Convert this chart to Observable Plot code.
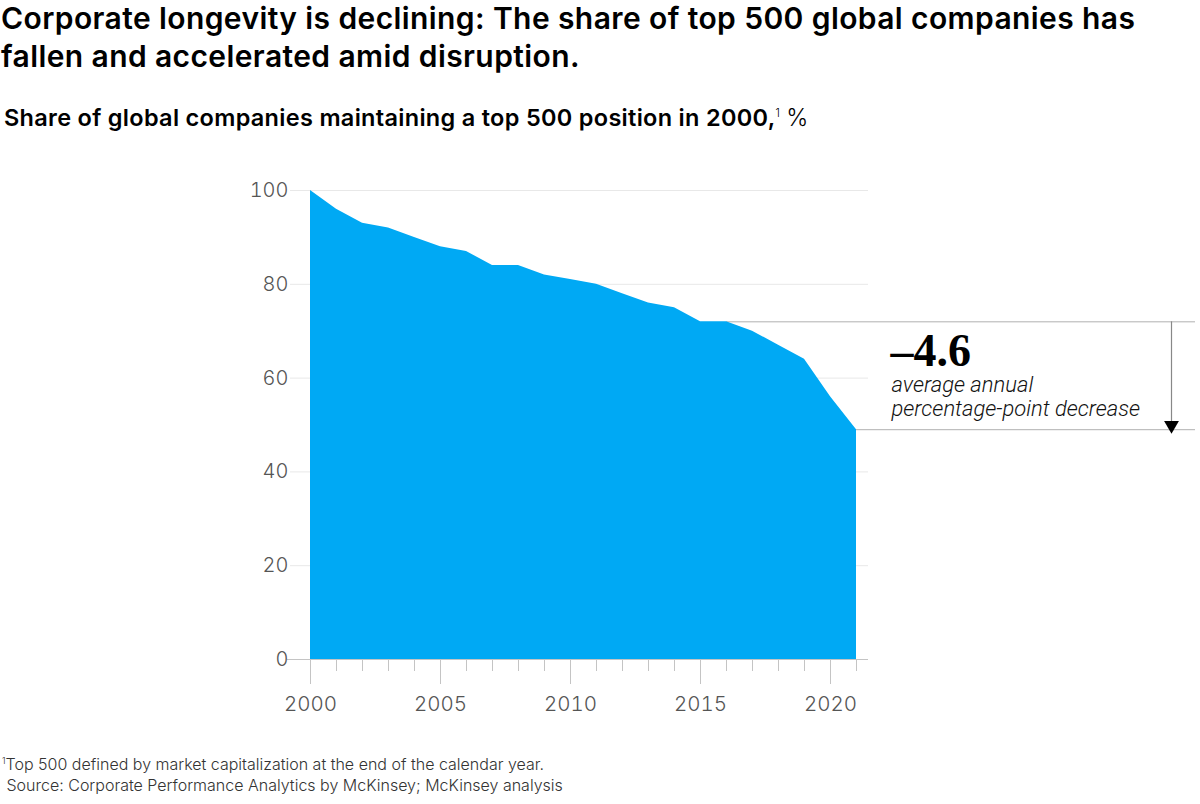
<!DOCTYPE html>
<html>
<head>
<meta charset="utf-8">
<script src="https://cdn.jsdelivr.net/npm/d3@7"></script>
<script src="https://cdn.jsdelivr.net/npm/@observablehq/plot@0.6"></script>
<style>
  html, body { margin: 0; padding: 0; background: #fff; }
  body { width: 1200px; height: 804px; position: relative; overflow: hidden; font-family: Inter, Roboto, "Noto Sans", sans-serif; }
  #title { position: absolute; left: 1px; top: -1px; width: 1199px; white-space: nowrap; font-size: 30px; font-weight: 600; line-height: 38px; color: #000; letter-spacing: 0.4px; }
  #subtitle { position: absolute; left: 4px; top: 103px; white-space: nowrap; font-size: 23.5px; font-weight: 600; color: #000; letter-spacing: 0.3px; }
  #subtitle sup { font-size: 11px; font-weight: 300; vertical-align: 9px; }
  #subtitle .unit { font-weight: 300; }
  #chart { position: absolute; left: 0; top: 150px; }
  #foot { position: absolute; left: 2px; top: 750px; font-size: 16px; font-weight: 300; color: #333; line-height: 21px; }
  #foot sup { font-size: 9px; vertical-align: 6px; }
</style>
</head>
<body>
<div id="title">Corporate longevity is declining: The share of top 500 global companies has<br>fallen and accelerated amid disruption.</div>
<div id="subtitle">Share of global companies maintaining a top 500 position in 2000,<sup>1</sup> <span class="unit">%</span></div>
<div id="chart"></div>
<div id="foot"><sup>1</sup>Top 500 defined by market capitalization at the end of the calendar year.<br>&nbsp;Source: Corporate Performance Analytics by McKinsey; McKinsey analysis</div>
<script>
const years  = [2000, 2001, 2002, 2003, 2004, 2005, 2006, 2007, 2008, 2009, 2010,
                2011, 2012, 2013, 2014, 2015, 2016, 2017, 2018, 2019, 2020, 2021];
const shares = [100, 96, 93, 92, 90, 88, 87, 84, 84, 82, 81,
                80, 78, 76, 75, 72, 72, 70, 67, 64, 56, 49];
const yTicks = [0, 20, 40, 60, 80, 100];
const xLabelTicks = [2000, 2005, 2010, 2015, 2020];
const annoYears = [2016, 2021];
const annoValues = [72, 49];
const annoValueLabel = ["–4.6"];
const annoText = ["average annual\npercentage-point decrease"];

const data = years.map((y, i) => ({year: y, share: shares[i]}));
const endYear = years[years.length - 1];
const annoLines = annoYears.map((y, i) => ({x1: y, x2: endYear, y: annoValues[i]}));

const font = "Inter, Roboto, 'Noto Sans', sans-serif";

const plot = Plot.plot({
  width: 1200,
  height: 590,
  marginLeft: 310,
  marginRight: 344,
  marginTop: 40,
  marginBottom: 81,
  style: { fontFamily: font, background: "transparent", overflow: "visible" },
  x: { domain: [years[0], endYear] },
  y: { domain: [0, 100] },
  marks: [
    Plot.ruleY(yTicks.filter(d => d > 0), { stroke: "#e8e8e8", strokeWidth: 1, insetLeft: -20, insetRight: -12 }),
    Plot.ruleY(annoLines, { x1: "x1", x2: "x2", y: "y", stroke: "#b0b0b0", strokeWidth: 1, insetRight: -339 }),
    Plot.areaY(data, { x: "year", y: "share", fill: "#00a9f4" }),
    Plot.ruleY([0], { stroke: "#c4c4c4", strokeWidth: 1, insetLeft: -23, insetRight: -12 }),
    Plot.axisY(yTicks, { tickSize: 0, tickPadding: 22, fontSize: 20, fontWeight: 300, fill: "#555", label: null }),
    Plot.axisX(years, { tickSize: 12, stroke: "#c4c4c4", text: null, label: null }),
    Plot.axisX(xLabelTicks, { tickSize: 25, stroke: "#c4c4c4", tickPadding: 12, fontSize: 20.5, fontWeight: 300, fill: "#555", tickFormat: d => String(d), label: null }),
    Plot.ruleX([0], { x: () => endYear, y1: annoValues[0], y2: annoValues[1], dx: 315, stroke: "#888", strokeWidth: 1.2, insetBottom: 8 }),
    Plot.dot([0], { x: () => endYear, y: annoValues[1], dx: 315, dy: -4.5, symbol: "triangle", rotate: 180, r: 5.5, fill: "#000", stroke: "none" }),
    Plot.text(annoValueLabel, { x: () => endYear, y: annoValues[0], text: d => d, dx: 34, dy: 12, textAnchor: "start", lineAnchor: "top", fontSize: 46, fontWeight: "bold", fontFamily: "'Liberation Serif', 'DejaVu Serif', serif", fill: "#000" }),
    Plot.text(annoText, { x: () => endYear, y: annoValues[0], text: d => d, dx: 35, dy: 53, textAnchor: "start", lineAnchor: "top", fontSize: 22, fontStyle: "italic", fontWeight: 300, lineHeight: 1.09, fontFamily: "Roboto, 'Noto Sans', sans-serif", fill: "#111" })
  ]
});
document.getElementById("chart").appendChild(plot);
</script>
</body>
</html>
